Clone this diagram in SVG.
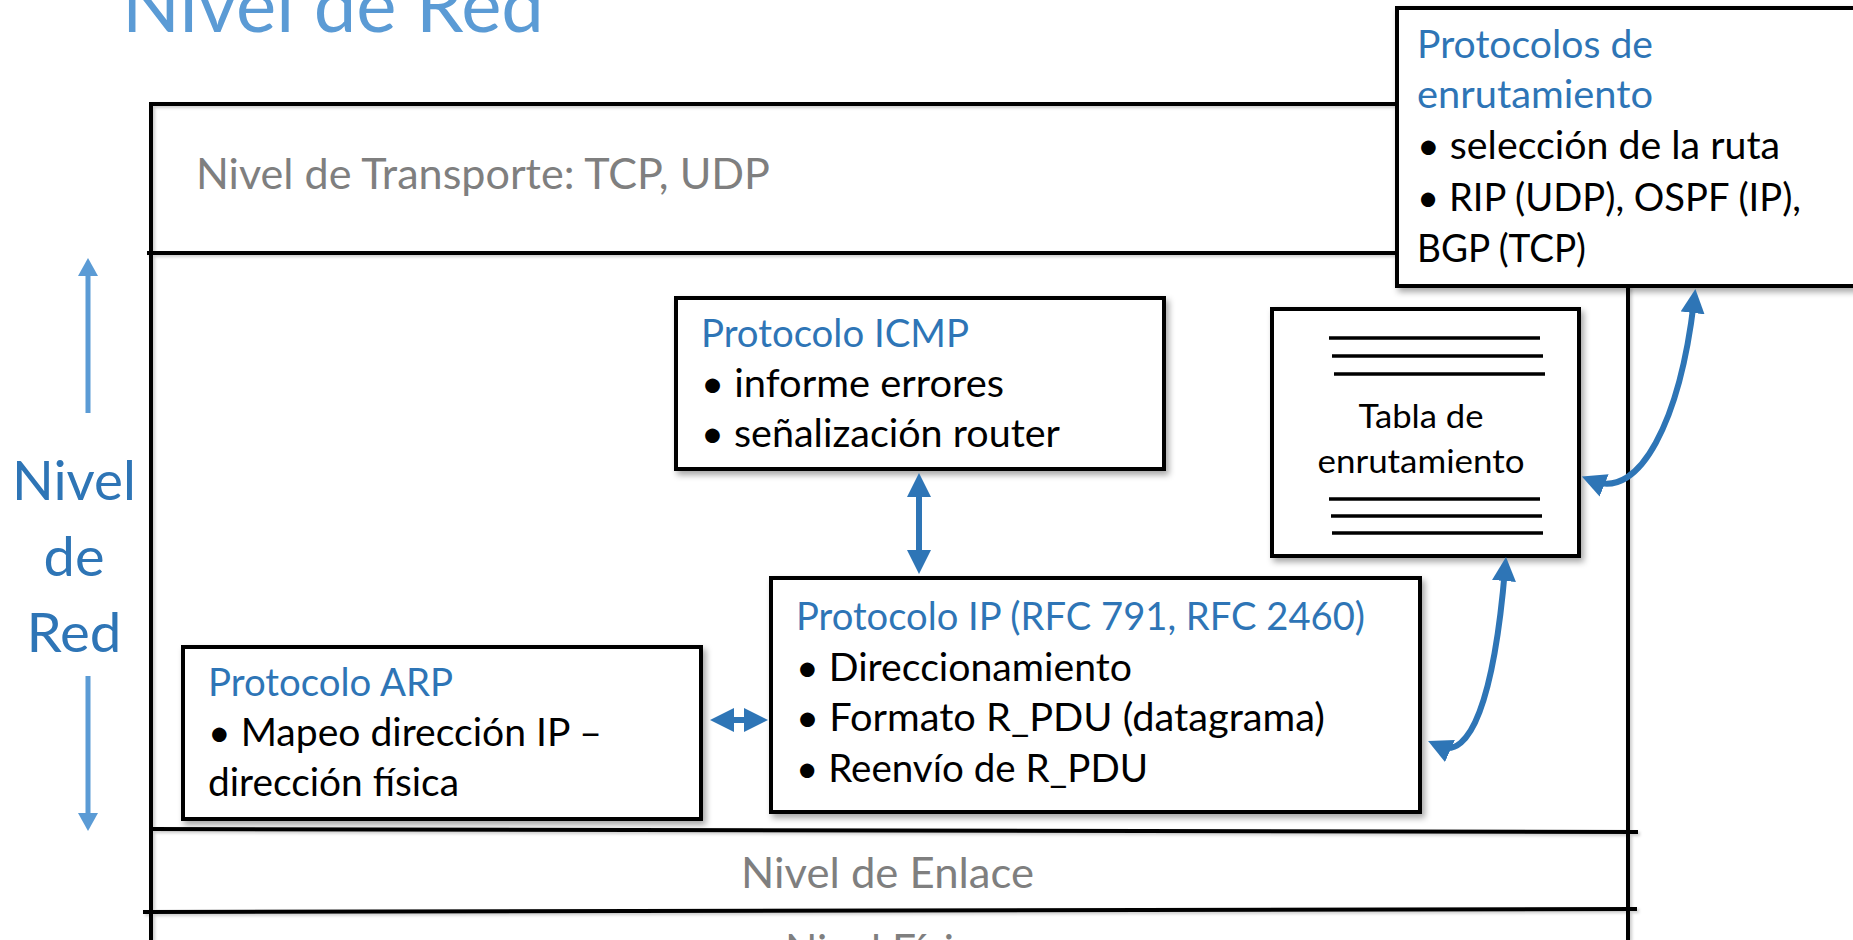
<svg xmlns="http://www.w3.org/2000/svg" width="1853" height="940" viewBox="0 0 1853 940">
  <style>
    text { font-family: Lato, "Open Sans", "Liberation Sans", sans-serif; }
    .box { fill: #ffffff; stroke: #000000; stroke-width: 4; filter: url(#sh); }
    .fr { stroke: #000000; stroke-width: 4; fill: none; }
    .h { fill: #2E75B6; font-size: 38px; }
    .t { fill: #000000; font-size: 38px; }
    .layer { fill: #7F7F7F; font-size: 42px; }
    .side { fill: #2E75B6; font-size: 54px; }
    .tl { stroke: #000000; stroke-width: 3.5; }
    .conn { stroke: #2E75B6; stroke-width: 6; fill: none; marker-start: url(#ah); marker-end: url(#ah); }
    .sarr { stroke: #5B9BD5; stroke-width: 5; fill: none; marker-end: url(#sa); }
  </style>
  <defs>
    <filter id="sh" x="-10%" y="-10%" width="130%" height="130%">
      <feDropShadow dx="3" dy="4" stdDeviation="3" flood-color="#000" flood-opacity="0.35"/>
    </filter>
    <filter id="lsh" x="-5%" y="-5%" width="110%" height="110%">
      <feDropShadow dx="2" dy="2" stdDeviation="1.5" flood-color="#000" flood-opacity="0.2"/>
    </filter>
    <marker id="ah" viewBox="0 0 24 24" markerWidth="24" markerHeight="24" refX="12" refY="12" orient="auto-start-reverse" markerUnits="userSpaceOnUse">
      <path d="M0,0 L24,12 L0,24 z" fill="#2E75B6"/>
    </marker>
    <marker id="sa" viewBox="0 0 18 20" markerWidth="18" markerHeight="20" refX="9" refY="10" orient="auto" markerUnits="userSpaceOnUse">
      <path d="M0,0 L18,10 L0,20 z" fill="#5B9BD5"/>
    </marker>
  </defs>

  <rect x="0" y="0" width="1853" height="940" fill="#ffffff"/>

  <g id="title">
    <text x="122" y="32" fill="#5B9BD5" font-size="75" textLength="422" lengthAdjust="spacingAndGlyphs">Nivel de Red</text>
  </g>

  <g id="layers" filter="url(#lsh)">
    <path class="fr" d="M151,104 H1397"/>
    <path class="fr" d="M151,102 V940"/>
    <path class="fr" d="M147,253 H1397"/>
    <path class="fr" d="M1628,286 V940"/>
    <path class="fr" d="M150,829 L1638,832"/>
    <path class="fr" d="M143,912 L1637,909"/>
  </g>
  <g id="layer-labels">
    <text class="layer" x="196" y="189" textLength="574" lengthAdjust="spacingAndGlyphs">Nivel de Transporte: TCP, UDP</text>
    <text class="layer" x="741" y="888" textLength="293" lengthAdjust="spacingAndGlyphs">Nivel de Enlace</text>
    <text class="layer" x="785" y="965" textLength="213" lengthAdjust="spacingAndGlyphs">Nivel Físico</text>
  </g>

  <g id="side-label">
    <text class="side" x="74" y="500" text-anchor="middle" textLength="124" lengthAdjust="spacingAndGlyphs">Nivel</text>
    <text class="side" x="74" y="576" text-anchor="middle" textLength="61" lengthAdjust="spacingAndGlyphs">de</text>
    <text class="side" x="74" y="652" text-anchor="middle" textLength="95" lengthAdjust="spacingAndGlyphs">Red</text>
    <path class="sarr" d="M88,413 V267"/>
    <path class="sarr" d="M88,676 V822"/>
  </g>

  <g id="routing-protocols">
    <rect class="box" x="1397" y="8" width="520" height="278"/>
    <text class="h" x="1417" y="58" textLength="236" lengthAdjust="spacingAndGlyphs">Protocolos de</text>
    <text class="h" x="1417" y="108" textLength="236" lengthAdjust="spacingAndGlyphs">enrutamiento</text>
    <text class="t" x="1417" y="159" textLength="363" lengthAdjust="spacingAndGlyphs">• selección de la ruta</text>
    <text class="t" x="1417" y="211" textLength="384" lengthAdjust="spacingAndGlyphs">• RIP (UDP), OSPF (IP),</text>
    <text class="t" x="1417" y="262" textLength="169" lengthAdjust="spacingAndGlyphs">BGP (TCP)</text>
  </g>

  <g id="icmp">
    <rect class="box" x="676" y="298" width="488" height="171"/>
    <text class="h" x="701" y="347" textLength="268" lengthAdjust="spacingAndGlyphs">Protocolo ICMP</text>
    <text class="t" x="701" y="397" textLength="303" lengthAdjust="spacingAndGlyphs">• informe errores</text>
    <text class="t" x="701" y="447" textLength="359" lengthAdjust="spacingAndGlyphs">• señalización router</text>
  </g>

  <g id="routing-table">
    <rect class="box" x="1272" y="309" width="307" height="247"/>
    <line class="tl" x1="1329" y1="338" x2="1540" y2="338"/>
    <line class="tl" x1="1332" y1="356" x2="1543" y2="356"/>
    <line class="tl" x1="1334" y1="374" x2="1545" y2="374"/>
    <text x="1421" y="428" font-size="32" fill="#000" text-anchor="middle" textLength="125" lengthAdjust="spacingAndGlyphs">Tabla de</text>
    <text x="1421" y="473" font-size="32" fill="#000" text-anchor="middle" textLength="207" lengthAdjust="spacingAndGlyphs">enrutamiento</text>
    <line class="tl" x1="1329" y1="499" x2="1540" y2="499"/>
    <line class="tl" x1="1331" y1="516" x2="1542" y2="516"/>
    <line class="tl" x1="1332" y1="533" x2="1543" y2="533"/>
  </g>

  <g id="ip">
    <rect class="box" x="771" y="578" width="649" height="234"/>
    <text class="h" x="796" y="630" textLength="569" lengthAdjust="spacingAndGlyphs">Protocolo IP (RFC 791, RFC 2460)</text>
    <text class="t" x="796" y="681" textLength="336" lengthAdjust="spacingAndGlyphs">• Direccionamiento</text>
    <text class="t" x="796" y="731" textLength="529" lengthAdjust="spacingAndGlyphs">• Formato R_PDU (datagrama)</text>
    <text class="t" x="796" y="782" textLength="352" lengthAdjust="spacingAndGlyphs">• Reenvío de R_PDU</text>
  </g>

  <g id="arp">
    <rect class="box" x="183" y="647" width="518" height="172"/>
    <text class="h" x="208" y="696" textLength="245" lengthAdjust="spacingAndGlyphs">Protocolo ARP</text>
    <text class="t" x="208" y="746" textLength="394" lengthAdjust="spacingAndGlyphs">• Mapeo dirección IP –</text>
    <text class="t" x="208" y="796" textLength="251" lengthAdjust="spacingAndGlyphs">dirección física</text>
  </g>

  <g id="connectors">
    <path class="conn" d="M919,485 V562"/>
    <path class="conn" d="M722,720 H756"/>
    <path class="conn" d="M1439,746 C1470,760 1494,700 1505,569"/>
    <path class="conn" d="M1593,481 C1640,500 1680,420 1694,301"/>
  </g>
</svg>
